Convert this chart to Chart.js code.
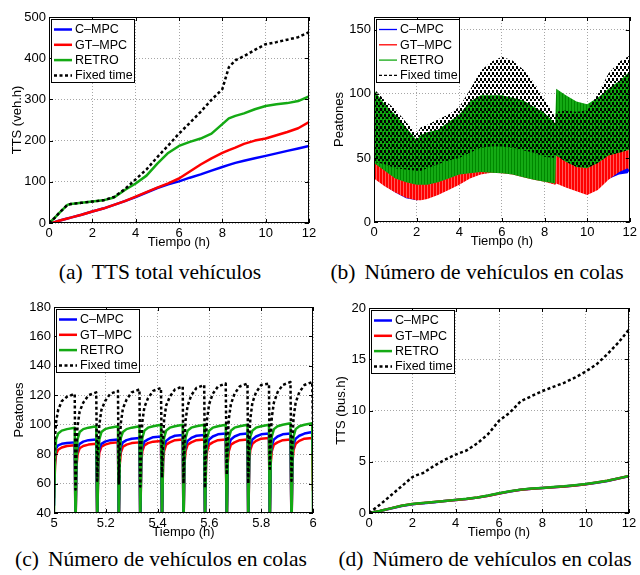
<!DOCTYPE html>
<html><head><meta charset="utf-8">
<script src="https://cdn.jsdelivr.net/npm/chart.js@4/dist/chart.umd.min.js"></script>
<style>
html,body{margin:0;padding:0;background:#fff;}
body{width:640px;height:575px;position:relative;overflow:hidden;}
canvas{position:absolute;}
.cap{position:absolute;width:320px;text-align:center;font-family:"Liberation Serif","Times New Roman",serif;font-size:21.5px;color:#000;white-space:nowrap;line-height:24px;}
.cap span.l{margin-right:9px;}
</style></head><body>
<canvas id="ca" width="320" height="250" style="left:0;top:0"></canvas>
<canvas id="cb" width="320" height="249" style="left:320px;top:0"></canvas>
<canvas id="cc" width="320" height="250" style="left:0;top:290px"></canvas>
<canvas id="cd" width="320" height="250" style="left:320px;top:290px"></canvas>
<div class="cap" style="left:0;top:260px"><span class="l">(a)</span>TTS total vehículos</div>
<div class="cap" style="left:317px;top:260px"><span class="l">(b)</span>Número de vehículos en colas</div>
<div class="cap" style="left:1px;top:547px"><span class="l">(c)</span>Número de vehículos en colas</div>
<div class="cap" style="left:325px;top:547px"><span class="l">(d)</span>Número de vehículos en colas</div>
<script>
// ---------- shared ----------
const seriesLabels = ['C\u2013MPC', 'GT\u2013MPC', 'RETRO', 'Fixed time'];
const xTitle = 'Tiempo (h)';

// ---------- panel (a): TTS total vehículos ----------
const timeA   = [0,0.25,0.5,0.85,1,1.5,2,2.5,3,3.5,4,4.5,5,5.5,6,6.5,7,7.5,8,8.3,8.6,9,9.5,10,10.5,11,11.5,12];
const cmpcA   = [0,2,6,11,13,20,28,35,44,53,63,74,85,94,101,110,118,127,136,141,146,151,157,163,169,175,181,187];
const gtmpcA  = [0,2,6,11,13,20,28,35,44,53,64,75,86,96,108,125,142,157,170,177,183,192,200,205,213,221,230,245];
const retroA  = [0,12,26,44,46,49,52,55,62,80,96,115,144,170,187,197,205,217,240,254,260,266,276,284,288,291,296,307];
const fixedA  = [0,12,26,44,46,49,52,55,63,82,106,130,160,188,217,243,270,299,325,378,395,405,420,434,439,445,451,463];

// ---------- panel (b): envelopes of the queue oscillations ----------
const timeB      = [0,0.5,1,1.5,2,2.2,2.5,3,3.5,4,4.5,5,5.5,6,6.5,7,7.5,8,8.5,8.55,9,9.5,10,10.5,11,11.5,11.9,12];
const fixedTopB  = [104,95,88,78,69,74,76,80,84,90,103,118,125,129,126,119,109,96,82,86,87,86,87,100,116,125,129,130];
const fixedBotB  = [47,45,42,41,40,40,42,45,48,50,54,58,59,59,58,56,54,51,50,52,47,43,42,46,52,54,56,57];
const retroTopB  = [103,92,84,74,64,68,70,72,78,84,94,99,99,99,97,95,90,85,77,104,99,94,92,97,104,110,116,118];
const retroBotB  = [46,40,34,31,29,29,29,31,34,37,38,39,38.5,38,37,35,33,31.5,30,52,47,43,42,46,52,54,56,57];
const gtmpcTopB  = [50,50,50,50,50,50,50,50,50,50,50,50,50,50,50,50,50,50,50,56,54,53,53,53,54,55,56,137];
const gtmpcBotB  = [34,28,23,19,17,17,18,21,25,29,34,37,38.5,38,37,35,33,31.5,29,30,27,24,21,25,33,39,42,40];
const cmpcTopB   = [48,48,48,48,48,48,48,48,48,48,48,48,48,48,48,48,48,48,48,54,52,51,51,51,52,52,53,53];
const cmpcBotB   = [34.5,28.5,23,18.5,17,17.5,18.5,21.5,25.5,29.5,34.5,37.5,39,38.5,37.5,35.5,33.5,32,29.5,30.5,27.5,24.5,21.5,25.5,33.5,37,38,40.5];

// ---------- panel (c): zoom 5-6 h ----------
const timeC = [
 5.000,5.004,5.008,5.016,5.030,5.050,5.080,
 5.083,5.087,5.091,5.099,5.113,5.133,5.163,
 5.167,5.171,5.175,5.183,5.197,5.217,5.247,
 5.250,5.254,5.258,5.266,5.280,5.300,5.330,
 5.333,5.337,5.341,5.349,5.363,5.383,5.413,
 5.417,5.421,5.425,5.433,5.447,5.467,5.497,
 5.500,5.504,5.508,5.516,5.530,5.550,5.580,
 5.583,5.587,5.591,5.599,5.613,5.633,5.663,
 5.667,5.671,5.675,5.683,5.697,5.717,5.747,
 5.750,5.754,5.758,5.766,5.780,5.800,5.830,
 5.833,5.837,5.841,5.849,5.863,5.883,5.913,
 5.917,5.921,5.925,5.933,5.947,5.967,5.997,
 6.000];
const cmpcC = [
 45,80,84,86,87,87.5,88,
 30,78,84,87,88.5,89.5,90,
 30,78,84,87,88.5,89.5,90,
 30,79,85,88,89.5,90.5,91,
 30,79,85,88.5,90,91.5,92,
 30,80,86,89,91,92.5,93,
 30,80,86,89,91,92.5,93,
 30,80,86,90,92,93.5,94,
 30,80,86,90,92,93.5,94,
 30,80,86,90,92,93.5,94,
 30,80,86,90,92,93.5,94,
 30,81,87,90.5,92.5,94,95,
 80];
const gtmpcC = [
 50,72,80,83,84.5,85.5,86,
 30,72,80,84,85.5,86.5,87,
 30,73,81,85,86.5,87.5,88,
 30,73,81,85,86.5,87.5,88,
 30,74,82,86,87.5,88.5,89,
 30,74,82,86.5,88,89.5,90,
 30,74,82,86.5,88,89.5,90,
 30,74,82,86.5,88,89.5,90,
 30,74,82,86.5,88,89.5,90,
 30,75,83,87,89,90.5,91,
 30,74,82,86.5,88,89.5,90,
 30,75,83,87,89,90.5,91,
 55];
const retroC = [
 40,78,90,94,96,97,98,
 30,76,90,95,97,98,99,
 30,76,90,95,97,98,99,
 30,77,91,95,97,98,99,
 30,77,91,96,98,99,100,
 30,77,91,96,98,99,100,
 30,77,91,96,98,99,100,
 30,78,91,96,98,99,100,
 30,78,91,96,98,99,100,
 30,78,92,96,98,99,100,
 30,78,92,97,99,100,101,
 30,78,92,97,99,100,101,
 40];
const fixedC = [
 75,92,102,110,116,119,121,
 56,86,99,109,115,120,122,
 62,87,100,110,116,121,123,
 60,88,101,111,117,122,124,
 58,88,102,112,118,123,125,
 64,89,103,113,119,124,126,
 60,89,103,113,120,125,127,
 57,90,104,114,121,126,128,
 66,90,104,114,121,126,128,
 60,90,104,115,122,127,128,
 70,91,105,115,122,127,129,
 62,91,105,115,122,127,129,
 100];

// ---------- panel (d): TTS buses ----------
const timeD  = [0,0.5,1,1.5,2,2.2,2.5,3,3.5,4,4.5,5,5.5,6,6.5,7,7.5,8,8.5,9,9.5,10,10.5,11,11.5,12];
const cmpcD  = [0,0.2,0.44,0.69,0.86,0.9,0.96,1.06,1.16,1.26,1.36,1.5,1.68,1.9,2.1,2.26,2.36,2.43,2.51,2.58,2.68,2.8,2.96,3.13,3.36,3.6];
const gtmpcD = [0,0.2,0.45,0.7,0.87,0.91,0.97,1.07,1.17,1.27,1.37,1.51,1.69,1.91,2.11,2.27,2.37,2.44,2.52,2.59,2.69,2.81,2.97,3.14,3.37,3.61];
const retroD = [0,0.2,0.45,0.7,0.88,0.92,0.98,1.08,1.18,1.28,1.38,1.52,1.7,1.92,2.12,2.28,2.38,2.45,2.53,2.6,2.7,2.82,2.98,3.15,3.38,3.62];
const fixedD = [0,0.8,1.7,2.6,3.5,3.7,3.9,4.6,5.2,5.7,6.1,6.8,7.7,9.0,9.8,10.9,11.4,11.9,12.3,12.7,13.2,13.8,14.5,15.5,16.6,17.9];

// ---------- styles ----------
const BLUE = 'rgb(0,0,255)', RED = 'rgb(255,0,0)', GREEN = 'rgb(20,170,20)', BLACK = '#000';
const FONT = '"Liberation Sans", Arial, Helvetica, sans-serif';
const pts = (t, v) => t.map((x, i) => ({x: x, y: v[i]}));
const fmtTick = v => { const r = Math.round(v * 10) / 10; return String(r); };

function makePattern(w, h, draw) {
  const c = document.createElement('canvas'); c.width = w; c.height = h;
  const g = c.getContext('2d'); draw(g); return g.createPattern(c, 'repeat');
}

const framePlugin = {
  id: 'frame',
  afterDatasetsDraw(chart) {
    const {ctx, chartArea: a, scales: {x, y}} = chart;
    ctx.save();
    ctx.strokeStyle = '#000'; ctx.lineWidth = 1; ctx.setLineDash([]);
    ctx.beginPath();
    x.ticks.forEach(t => { const p = Math.round(x.getPixelForValue(t.value)) + 0.5;
      ctx.moveTo(p, a.bottom); ctx.lineTo(p, a.bottom - 4); ctx.moveTo(p, a.top); ctx.lineTo(p, a.top + 4); });
    y.ticks.forEach(t => { const p = Math.round(y.getPixelForValue(t.value)) + 0.5;
      ctx.moveTo(a.left, p); ctx.lineTo(a.left + 4, p); ctx.moveTo(a.right, p); ctx.lineTo(a.right - 4, p); });
    ctx.stroke();
    ctx.strokeRect(Math.round(a.left) + 0.5, Math.round(a.top) + 0.5, Math.round(a.right - a.left) - 1, Math.round(a.bottom - a.top) - 1);
    ctx.restore();
  }
};

const legendPlugin = {
  id: 'boxLegend',
  afterDatasetsDraw(chart, args, opts) {
    const {ctx, chartArea: a} = chart;
    const x0 = Math.round(a.left) + 2, y0 = Math.round(a.top) + 2, w = 84, h = 64;
    ctx.save();
    ctx.fillStyle = '#fff'; ctx.fillRect(x0, y0, w, h);
    ctx.strokeStyle = '#000'; ctx.lineWidth = 1; ctx.strokeRect(x0 + 0.5, y0 + 0.5, w - 1, h - 1);
    ctx.font = '12.5px ' + FONT; ctx.textBaseline = 'middle'; ctx.textAlign = 'left';
    const cols = [BLUE, RED, GREEN, BLACK];
    seriesLabels.forEach((lab, i) => {
      const yy = y0 + 10.5 + i * 15.3;
      ctx.beginPath();
      ctx.strokeStyle = cols[i];
      ctx.lineWidth = opts.thin ? 1.3 : 2.5;
      ctx.setLineDash(i === 3 ? (opts.thin ? [3, 2] : [3, 2.5]) : []);
      ctx.moveTo(x0 + 3, yy); ctx.lineTo(x0 + 21, yy); ctx.stroke();
      ctx.setLineDash([]);
      ctx.fillStyle = '#000';
      ctx.fillText(lab, x0 + 24, yy + 0.5);
    });
    ctx.restore();
  }
};

function makeChart(id, geo, ax, datasets, legendThin) {
  const tickFont = {family: FONT, size: 13};
  return new Chart(document.getElementById(id), {
    type: 'line',
    data: {datasets: datasets},
    options: {
      responsive: false, animation: false, devicePixelRatio: 1,
      layout: {autoPadding: false, padding: {left: 0, top: geo.top, right: geo.right, bottom: 0}},
      plugins: {legend: {display: false}, tooltip: {enabled: false}, boxLegend: {thin: legendThin}},
      elements: {point: {radius: 0}, line: {tension: 0, borderJoinStyle: 'round'}},
      scales: {
        x: {type: 'linear', min: ax.xMin, max: ax.xMax,
            afterFit: s => { s.height = geo.xh; },
            ticks: {stepSize: ax.xStep, padding: 3, font: tickFont, color: '#000', maxRotation: 0, autoSkip: false, includeBounds: false, callback: fmtTick},
            grid: {color: 'rgba(0,0,0,0.35)', lineWidth: 1, drawTicks: false},
            border: {display: false, dash: [1, 2]},
            title: {display: true, text: xTitle, font: tickFont, color: '#000', padding: {top: 0, bottom: 0}}},
        y: {type: 'linear', min: ax.yMin, max: ax.yMax,
            afterFit: s => { s.width = geo.left; },
            ticks: {stepSize: ax.yStep, padding: 3, font: tickFont, color: '#000', autoSkip: false, includeBounds: false, callback: fmtTick},
            grid: {color: 'rgba(0,0,0,0.35)', lineWidth: 1, drawTicks: false},
            border: {display: false, dash: [1, 2]},
            title: {display: true, text: ax.yTitle, font: tickFont, color: '#000', padding: {top: geo.ytp, bottom: 0}}}
      }
    },
    plugins: [framePlugin, legendPlugin]
  });
}

function lineSet(t, v, color, order, dashed) {
  return {data: pts(t, v), borderColor: color, backgroundColor: color, borderWidth: 2.5,
          borderDash: dashed ? [3, 2.5] : [], fill: false, order: order, clip: 0};
}

// (a)
makeChart('ca', {left: 49, right: 11, top: 17, xh: 27, ytp: 10},
  {xMin: 0, xMax: 12, xStep: 2, yMin: 0, yMax: 500, yStep: 100, yTitle: 'TTS (veh.h)'},
  [lineSet(timeA, cmpcA, BLUE, 3), lineSet(timeA, gtmpcA, RED, 2),
   lineSet(timeA, retroA, GREEN, 1), lineSet(timeA, fixedA, BLACK, 0, true)], false);

// (b) bands
const patBlack = makePattern(4, 6, g => { g.fillStyle = '#000'; g.fillRect(0, 0, 2, 3); g.fillRect(2, 3, 2, 2); });
const patGreen = makePattern(3, 1, g => { g.fillStyle = GREEN; g.fillRect(0, 0, 3, 1); g.fillStyle = 'rgb(0,135,0)'; g.fillRect(2, 0, 1, 1); });
const patRed = makePattern(3, 1, g => { g.fillStyle = RED; g.fillRect(0, 0, 3, 1); g.fillStyle = 'rgb(255,90,90)'; g.fillRect(2, 0, 1, 1); });
function band(t, v, order, fillTarget, bg) {
  return {data: pts(t, v), borderColor: 'rgba(0,0,0,0)', borderWidth: 0.01, order: order, clip: 0,
          fill: fillTarget === null ? false : fillTarget, backgroundColor: bg || 'rgba(0,0,0,0)'};
}
makeChart('cb', {left: 54, right: 6, top: 17, xh: 27, ytp: 12},
  {xMin: 0, xMax: 12, xStep: 2, yMin: 0, yMax: 160, yStep: 50, yTitle: 'Peatones'},
  [band(timeB, cmpcBotB, 3, null), band(timeB, cmpcTopB, 3, 0, BLUE),
   band(timeB, gtmpcBotB, 2, null), band(timeB, gtmpcTopB, 2, 2, patRed),
   band(timeB, retroBotB, 1, null), band(timeB, retroTopB, 1, 4, patGreen),
   band(timeB, fixedBotB, 0, null), band(timeB, fixedTopB, 0, 6, patBlack)], true);

// (c)
makeChart('cc', {left: 54, right: 7, top: 17, xh: 27, ytp: 12},
  {xMin: 5, xMax: 6, xStep: 0.2, yMin: 40, yMax: 180, yStep: 20, yTitle: 'Peatones'},
  [lineSet(timeC, cmpcC, BLUE, 2), lineSet(timeC, gtmpcC, RED, 3),
   lineSet(timeC, retroC, GREEN, 1), lineSet(timeC, fixedC, BLACK, 0, true)], false);

// (d)
makeChart('cd', {left: 49, right: 11, top: 18, xh: 27, ytp: 14},
  {xMin: 0, xMax: 12, xStep: 2, yMin: 0, yMax: 20, yStep: 5, yTitle: 'TTS (bus.h)'},
  [lineSet(timeD, cmpcD, BLUE, 3), lineSet(timeD, gtmpcD, RED, 2),
   lineSet(timeD, retroD, GREEN, 1), lineSet(timeD, fixedD, BLACK, 0, true)], false);
</script>
</body></html>
